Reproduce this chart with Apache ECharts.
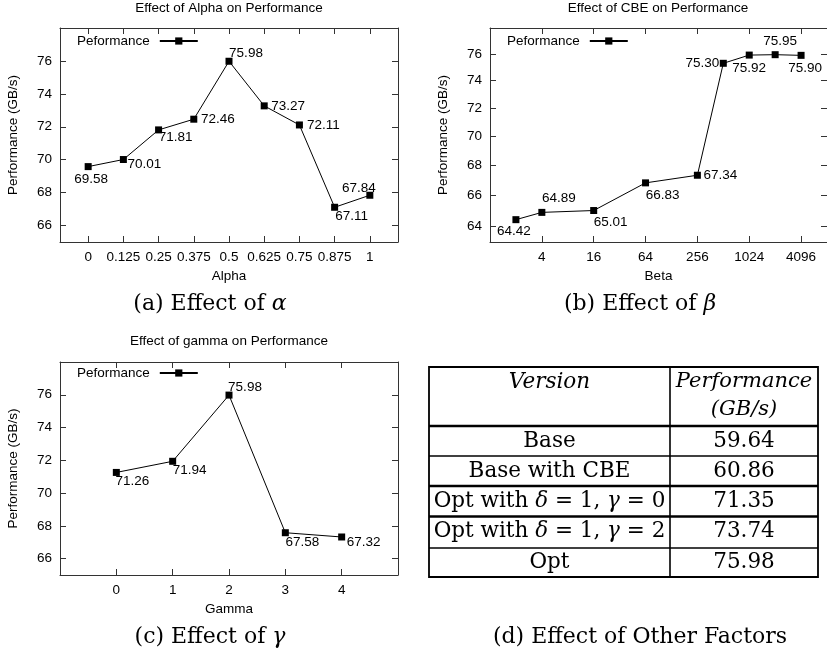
<!DOCTYPE html>
<html>
<head>
<meta charset="utf-8">
<script src="https://cdn.jsdelivr.net/npm/echarts@6/dist/echarts.min.js"></script>
<style>
  html, body { margin: 0; padding: 0; background: #fff; }
  #main { width: 827px; height: 656px; }
</style>
</head>
<body>
<div id="main"></div>
<script>
// (a) alpha
var alphaValues = [0, 0.125, 0.25, 0.375, 0.5, 0.625, 0.75, 0.875, 1];
var alphaPerf = [69.58, 70.01, 71.81, 72.46, 75.98, 73.27, 72.11, 67.11, 67.84];
// (b) beta (CBE)
var betaValues = [2, 4, 16, 64, 256, 512, 1024, 2048, 4096];
var betaPerf = [64.42, 64.89, 65.01, 66.83, 67.34, 75.30, 75.92, 75.95, 75.90];
var betaTicks = [4, 16, 64, 256, 1024, 4096];
// (c) gamma
var gammaValues = [0, 1, 2, 3, 4];
var gammaPerf = [71.26, 71.94, 75.98, 67.58, 67.32];
var gammaTicks = [0, 1, 2, 3, 4];
// y ticks
var perfTicks = [66, 68, 70, 72, 74, 76];
var perfTicksBeta = [64, 66, 68, 70, 72, 74, 76];
// (d) table
var tableVersions = ['Base', 'Base with CBE', 'Opt with δ = 1, γ = 0', 'Opt with δ = 1, γ = 2', 'Opt'];
var tablePerf = ['59.64', '60.86', '71.35', '73.74', '75.98'];

// label offsets (placement only)
var offA = [[3, 13], [21, 5], [17, 7], [24, 0], [17, -8], [24, 0], [24, 0], [17, 9], [-11, -7]];
var offB = [[-2, 12], [17, -14], [17, 12], [17, 12], [23, 0], [-21, 0], [0, 13], [5, -13], [4, 13]];
var offC = [[16, 9], [17, 9], [16, -8], [17, 10], [22, 5]];

var SANS = 'Liberation Sans';
var SERIF = 'DejaVu Serif';
var FS = 13.5;
var TFS = 21.5;
var boxColor = '#333';

function xAxes(grid, type, min, max, ticks, name, extra) {
  var base = {
    gridIndex: grid, type: type, min: min, max: max,
    axisLine: { show: true, onZero: false, lineStyle: { color: boxColor, width: 1 } },
    axisTick: { show: true, inside: true, length: 6, customValues: ticks, lineStyle: { color: boxColor } },
    splitLine: { show: false }
  };
  var bottom = Object.assign({}, base, extra || {}, {
    position: 'bottom', name: name, nameLocation: 'middle', nameGap: 27,
    nameTextStyle: { fontFamily: SANS, fontSize: FS, color: '#000' },
    axisLabel: { customValues: ticks, margin: 8, color: '#000', fontFamily: SANS, fontSize: FS,
      formatter: function (v) { return String(v); } }
  });
  var top = Object.assign({}, base, extra || {}, { position: 'top', axisLabel: { show: false } });
  return [bottom, top];
}

function yAxes(grid, type, min, max, ticks) {
  var base = {
    gridIndex: grid, type: type, min: min, max: max,
    axisLine: { show: true, onZero: false, lineStyle: { color: boxColor, width: 1 } },
    axisTick: { show: true, inside: true, length: 6, customValues: ticks, lineStyle: { color: boxColor } },
    splitLine: { show: false }
  };
  var left = Object.assign({}, base, {
    position: 'left', name: 'Performance (GB/s)', nameLocation: 'middle', nameGap: 40,
    nameTextStyle: { fontFamily: SANS, fontSize: FS, color: '#000' },
    axisLabel: { customValues: ticks, margin: 8, color: '#000', fontFamily: SANS, fontSize: FS,
      formatter: function (v) { return String(v); } }
  });
  var right = Object.assign({}, base, { position: 'right', axisLabel: { show: false } });
  return [left, right];
}

function makeSeries(xs, ys, offs, axisIdx) {
  return {
    type: 'line', name: 'Peformance',
    xAxisIndex: axisIdx, yAxisIndex: axisIdx,
    data: xs.map(function (x, i) {
      return { value: [x, ys[i]], label: { offset: offs[i] } };
    }),
    symbol: 'rect', symbolSize: 7,
    lineStyle: { color: '#000', width: 1 },
    itemStyle: { color: '#000' },
    label: {
      show: true, position: 'inside', color: '#000', fontFamily: SANS, fontSize: FS,
      formatter: function (p) { return p.value[1].toFixed(2); }
    },
    animation: false
  };
}

function legendAt(left, top) {
  return {
    left: left, top: top, padding: 0, align: 'right', selectedMode: false,
    data: ['Peformance'], itemWidth: 38, itemHeight: 9,
    textStyle: { fontFamily: SANS, fontSize: FS, color: '#000', padding: [0, 5, 0, 0] }
  };
}

function label(x, y, text, opts) {
  return {
    type: 'text', x: x, y: y, silent: true,
    style: Object.assign({
      text: text, fill: '#000', fontFamily: SANS, fontSize: FS,
      align: 'center', verticalAlign: 'middle'
    }, opts || {})
  };
}

function richFor(size) {
  return { i: { fontFamily: SERIF, fontStyle: 'italic', fontSize: size, fill: '#000' } };
}

function mathText(s) {
  return s.replace(/([αβγδ])/g, '{i|$1}');
}

var xs = [].concat(
  xAxes(0, 'value', -0.1, 1.1, alphaValues, 'Alpha'),
  xAxes(1, 'log', 1, 8192, betaTicks, 'Beta', { logBase: 2 }),
  xAxes(2, 'value', -1, 5, gammaTicks, 'Gamma')
);
var ys = [].concat(
  yAxes(0, 'value', 65, 78, perfTicks),
  yAxes(1, 'log', 63, 78, perfTicksBeta),
  yAxes(2, 'value', 65, 78, perfTicks)
);

// table geometry
var tL = 429, tR = 818, tMid = 670, tTop = 367, tBot = 577;
var rowLines = [426, 456, 486, 516.5, 548];
var thickLines = [true, false, true, true, false];
var rowCenters = [441, 471, 501, 531, 562];
var col1 = (tL + tMid) / 2, col2 = (tMid + tR) / 2;

var graphics = [
  label(229, 8, 'Effect of Alpha on Performance'),
  label(658, 8, 'Effect of CBE on Performance'),
  label(229, 341, 'Effect of gamma on Performance'),
  label(210, 304, mathText('(a) Effect of α'), { fontFamily: SERIF, fontSize: 22, rich: richFor(22) }),
  label(640, 304, mathText('(b) Effect of β'), { fontFamily: SERIF, fontSize: 22, rich: richFor(22) }),
  label(210, 637, mathText('(c) Effect of γ'), { fontFamily: SERIF, fontSize: 22, rich: richFor(22) }),
  label(640, 637, '(d) Effect of Other Factors', { fontFamily: SERIF, fontSize: 22 }),
  {
    type: 'rect', silent: true,
    shape: { x: tL, y: tTop, width: tR - tL, height: tBot - tTop },
    style: { fill: 'none', stroke: '#000', lineWidth: 1.8 }
  },
  {
    type: 'line', silent: true,
    shape: { x1: tMid, y1: tTop, x2: tMid, y2: tBot },
    style: { stroke: '#000', lineWidth: 1.6 }
  },
  label(col1, 382, 'Version', { fontFamily: SERIF, fontSize: TFS, fontStyle: 'italic' }),
  label(col2, 382, 'Performance', { fontFamily: SERIF, fontSize: 21, fontStyle: 'italic' }),
  label(col2, 410, '(GB/s)', { fontFamily: SERIF, fontSize: 21, fontStyle: 'italic' })
];
rowLines.forEach(function (y, i) {
  graphics.push({
    type: 'line', silent: true,
    shape: { x1: tL, y1: y, x2: tR, y2: y },
    style: { stroke: '#000', lineWidth: thickLines[i] ? 2.4 : 1.5 }
  });
});
tableVersions.forEach(function (v, i) {
  graphics.push(label(col1, rowCenters[i], mathText(v), { fontFamily: SERIF, fontSize: TFS, rich: richFor(TFS) }));
  graphics.push(label(col2, rowCenters[i], tablePerf[i], { fontFamily: SERIF, fontSize: TFS }));
});

var chart = echarts.init(document.getElementById('main'));
chart.setOption({
  animation: false,
  backgroundColor: '#fff',
  grid: [
    { left: 60, top: 28, width: 338, height: 214 },
    { left: 490, top: 28, width: 337.5, height: 214 },
    { left: 60, top: 362, width: 338, height: 213 }
  ],
  legend: [legendAt(77, 34), legendAt(507, 34), legendAt(77, 366)],
  xAxis: xs,
  yAxis: ys,
  series: [
    makeSeries(alphaValues, alphaPerf, offA, 0),
    makeSeries(betaValues, betaPerf, offB, 2),
    makeSeries(gammaValues, gammaPerf, offC, 4)
  ],
  graphic: graphics
});
</script>
</body>
</html>
